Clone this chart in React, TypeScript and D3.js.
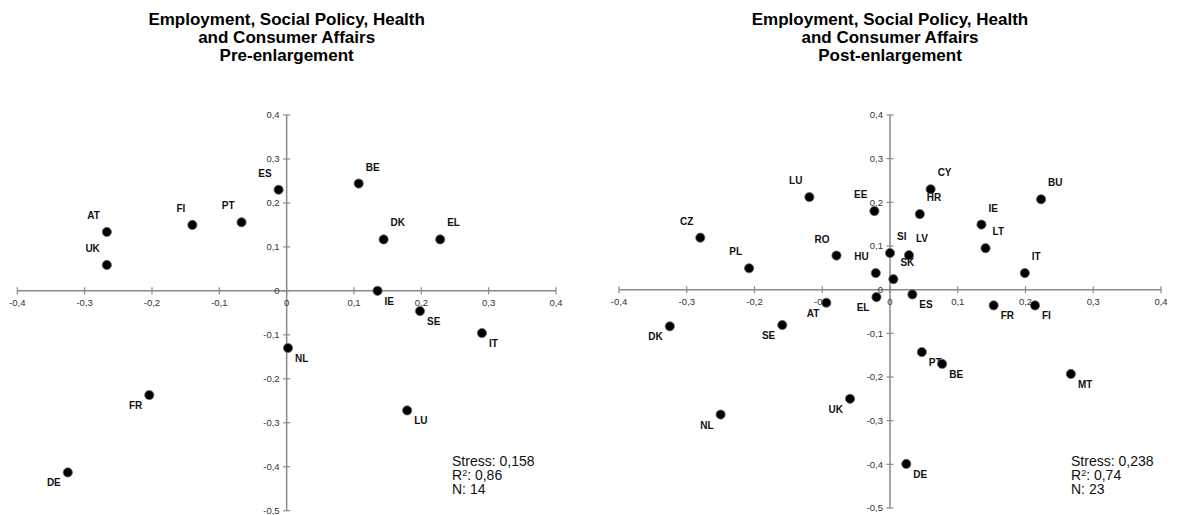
import React from "react";
import * as d3 from "d3";

// ---------- DATA ----------
const preCountries = ["AT", "UK", "FI", "PT", "ES", "BE", "DK", "EL", "IE", "SE", "IT", "NL", "FR", "LU", "DE"];
const preX = [-0.267, -0.267, -0.14, -0.067, -0.012, 0.107, 0.144, 0.228, 0.135, 0.198, 0.29, 0.002, -0.204, 0.179, -0.325];
const preY = [0.134, 0.059, 0.15, 0.156, 0.23, 0.244, 0.117, 0.117, 0.0, -0.046, -0.096, -0.13, -0.237, -0.272, -0.413];
const preLabelPos = ["ul", "ul", "ul", "ul", "ul", "ur", "ur", "ur", "lr", "lr", "lr", "lr", "ll", "lr", "ll"];

const postCountries = ["CZ", "PL", "LU", "RO", "EE", "HU", "AT", "EL", "DK", "SE", "NL", "UK", "SI", "LV", "SK", "HR", "CY", "IE", "LT", "BU", "IT", "ES", "FR", "FI", "PT", "BE", "MT", "DE"];
const postX = [-0.28, -0.208, -0.119, -0.079, -0.023, -0.021, -0.094, -0.02, -0.325, -0.159, -0.25, -0.059, 0.0, 0.028, 0.005, 0.044, 0.06, 0.135, 0.141, 0.223, 0.199, 0.033, 0.153, 0.214, 0.047, 0.077, 0.267, 0.024];
const postY = [0.119, 0.049, 0.212, 0.078, 0.18, 0.038, -0.03, -0.017, -0.084, -0.081, -0.286, -0.25, 0.084, 0.079, 0.024, 0.173, 0.23, 0.149, 0.095, 0.207, 0.038, -0.011, -0.036, -0.036, -0.143, -0.17, -0.193, -0.399];
const postLabelPos = ["ul", "ul", "ul", "ul", "ul", "ul", "ll", "ll", "ll", "ll", "ll", "ll", "ur", "ur", "ur", "ur", "ur", "ur", "ur", "ur", "ur", "lr", "lr", "lr", "lr", "lr", "lr", "lr"];

const xTicks = [-0.4, -0.3, -0.2, -0.1, 0, 0.1, 0.2, 0.3, 0.4];
const yTicks = [0.4, 0.3, 0.2, 0.1, 0, -0.1, -0.2, -0.3, -0.4, -0.5];

const titleLines = ["Employment, Social Policy, Health", "and Consumer Affairs"];
const preSubtitle = "Pre-enlargement";
const postSubtitle = "Post-enlargement";
const preStats = ["0,158", "0,86", "14"];
const postStats = ["0,238", "0,74", "23"];

const fmt = (v: number) => (Math.abs(v) < 1e-9 ? "0" : d3.format(".1f")(v).replace(".", ",").replace("−", "-"));

type PanelProps = {
  names: string[];
  xs: number[];
  ys: number[];
  pos: string[];
  subtitle: string;
  stats: string[];
  x0: number;
  x1: number;
  y0: number;
  y1: number;
  statsX: number;
};

const AXIS = "#8a8a8a";
const FONT = "Liberation Sans, Arial, sans-serif";

function Panel(p: PanelProps) {
  const x = d3.scaleLinear().domain([-0.4, 0.4]).range([p.x0, p.x1]);
  const y = d3.scaleLinear().domain([0.4, -0.5]).range([p.y0, p.y1]);
  const cx = x(0);
  const cy = y(0);
  const off: Record<string, [number, number, string]> = {
    ur: [7, -13, "start"],
    ul: [-7, -13, "end"],
    lr: [7, 14, "start"],
    ll: [-7, 14, "end"],
  };
  return (
    <g>
      <g fontFamily={FONT} fontWeight="bold" fontSize={17} textAnchor="middle" fill="#000">
        <text x={cx} y={25}>{titleLines[0]}</text>
        <text x={cx} y={43}>{titleLines[1]}</text>
        <text x={cx} y={61}>{p.subtitle}</text>
      </g>
      {/* axes */}
      <line x1={x(-0.4)} x2={x(0.4)} y1={cy} y2={cy} stroke={AXIS} strokeWidth={1.5} />
      <line x1={cx} x2={cx} y1={y(0.4)} y2={y(-0.5)} stroke={AXIS} strokeWidth={1.5} />
      {xTicks.map((t) => (
        <g key={"xt" + t}>
          <line x1={x(t)} x2={x(t)} y1={cy - 3.5} y2={cy + 3.5} stroke={AXIS} strokeWidth={1.2} />
          <text x={x(t)} y={cy + 15} fontSize={9.5} fontFamily={FONT} textAnchor="middle" fill="#333">{fmt(t)}</text>
        </g>
      ))}
      {yTicks.map((t) => (
        <g key={"yt" + t}>
          <line x1={cx - 3.5} x2={cx + 3.5} y1={y(t)} y2={y(t)} stroke={AXIS} strokeWidth={1.2} />
          <text x={cx - 7} y={y(t) + 3.3} fontSize={9.5} fontFamily={FONT} textAnchor="end" fill="#333">{fmt(t)}</text>
        </g>
      ))}
      {/* points */}
      {p.names.map((n, i) => {
        const px = x(p.xs[i]);
        const py = y(p.ys[i]);
        const o = off[p.pos[i]];
        return (
          <g key={n}>
            <circle cx={px} cy={py} r={4.6} fill="#000" stroke="#6a6a6a" strokeWidth={0.8} />
            <text x={px + o[0]} y={py + o[1]} textAnchor={o[2]} fontFamily={FONT} fontWeight="bold" fontSize={10} fill="#111">{n}</text>
          </g>
        );
      })}
      <g fontFamily={FONT} fontSize={14} fill="#111">
        <text x={p.statsX} y={466}>Stress: {p.stats[0]}</text>
        <text x={p.statsX} y={480}>R<tspan dy={-4} fontSize={9}>2</tspan><tspan dy={4}>: {p.stats[1]}</tspan></text>
        <text x={p.statsX} y={494}>N: {p.stats[2]}</text>
      </g>
    </g>
  );
}

export default function App() {
  return (
    <svg width={1178} height={515} style={{ position: "absolute", left: 0, top: 0, background: "#fff" }}>
      <rect width={1178} height={515} fill="#fff" />
      <Panel names={preCountries} xs={preX} ys={preY} pos={preLabelPos} subtitle={preSubtitle} stats={preStats}
        x0={17.3} x1={556} y0={115} y1={510.7} statsX={452} />
      <Panel names={postCountries} xs={postX} ys={postY} pos={postLabelPos} subtitle={postSubtitle} stats={postStats}
        x0={619} x1={1161} y0={115} y1={508} statsX={1071} />
    </svg>
  );
}
